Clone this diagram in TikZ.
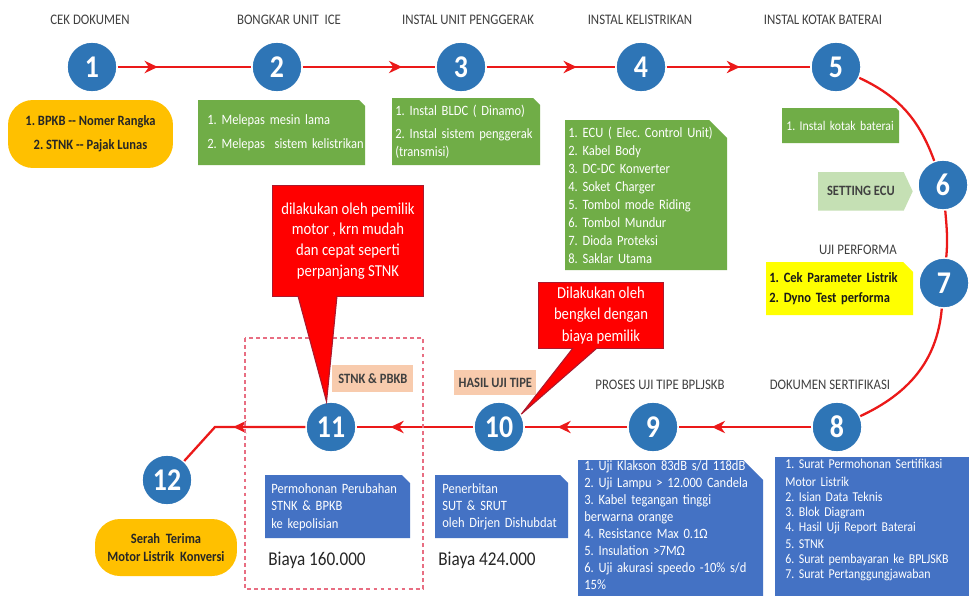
\documentclass[tikz,border=0pt]{standalone}
\usepackage{fontspec}
\setmainfont{Carlito}[FakeStretch=0.88]
\usetikzlibrary{arrows.meta,decorations.markings,backgrounds}
\definecolor{numblue}{RGB}{46,117,182}
\definecolor{boxgreen}{RGB}{112,173,71}
\definecolor{boxblue}{RGB}{68,114,196}
\definecolor{pillyellow}{RGB}{255,192,0}
\definecolor{noteyellow}{RGB}{255,255,0}
\definecolor{tagpeach}{RGB}{248,203,173}
\definecolor{tagmint}{RGB}{197,224,180}
\definecolor{flowred}{RGB}{235,25,25}
\definecolor{callred}{RGB}{255,0,0}
\definecolor{callrim}{RGB}{170,25,45}
\definecolor{headgray}{RGB}{64,64,64}
\definecolor{dashpink}{RGB}{232,110,130}
\frenchspacing
\tikzset{every picture/.style={x=0.02cm, y=-0.02cm}}
\tikzset{num/.style={circle, fill=numblue, draw=white, line width=0.8pt, minimum size=1cm, inner sep=0pt, text=white, font=\fontsize{18}{18}\selectfont\bfseries}}
\tikzset{head/.style={text=headgray, inner sep=0pt, font=\fontsize{8.3}{9}\selectfont}}
\tikzset{panel/.style={anchor=north west, align=left, text width=4cm, inner ysep=0pt, text=white, font=\fontsize{8.1}{10.2}\selectfont}}
\tikzset{pill/.style={fill=pillyellow, rounded corners=0.5cm, align=center, inner sep=0pt, text=black!85, font=\fontsize{8.1}{10.2}\selectfont\bfseries}}
\tikzset{tag/.style={fill=#1, anchor=north west, inner sep=0pt, text=headgray, font=\fontsize{8.1}{9}\selectfont\bfseries}}
\tikzset{talk/.style={fill=callred, draw=callrim, line width=0.6pt, anchor=north west, align=center, inner sep=0pt, text=white, font=\fontsize{9.5}{11.9}\selectfont}}
\tikzset{cost/.style={anchor=west, inner sep=0pt, text=black!85, font=\fontsize{11.1}{12}\selectfont}}
\tikzset{flow/.style={draw=flowred, line width=1.3pt}}
\tikzset{midarrow/.style={postaction={decorate}, decoration={markings, mark=at position #1 with {\arrow{Stealth[length=7.5pt,width=7pt]}}}}}
\newcommand{\panelfill}[5]{\fill[#2] (#1.north west) -- ++(#3-#5,0) -- ++(#5,#5) -- ++(0,#4-#5) -- ++(-#3,0) -- cycle;}
\begin{document}
\frenchspacing
\begin{tikzpicture}
\useasboundingbox (0,0) rectangle (969,595);
\node[num] (c1) at (92,67) {1};
\node[num] (c2) at (277,67) {2};
\node[num] (c3) at (461,67) {3};
\node[num] (c4) at (641,67) {4};
\node[num] (c5) at (836,67) {5};
\node[num] (c6) at (943,185) {6};
\node[num] (c7) at (944,283) {7};
\node[num] (c8) at (837,427) {8};
\node[num] (c9) at (653,427) {9};
\node[num] (c10) at (499,427) {10};
\node[num] (c11) at (331,427) {11};
\node[num] (c12) at (167,480) {12};
\coordinate (bend) at (215,427);
\draw[flow, midarrow=0.30] (c1) -- (c2);
\draw[flow, midarrow=0.75] (c2) -- (c3);
\draw[flow, midarrow=0.70] (c3) -- (c4);
\draw[flow, midarrow=0.51] (c4) -- (c5);
\draw[flow] (c5) to[out=-25, in=110] (c6) to[out=-85, in=85] (c7) to[out=-95, in=25] (c8);
\draw[flow, midarrow=0.75] (c8) -- (c9);
\draw[flow, midarrow=0.68] (c9) -- (c10);
\draw[flow, midarrow=0.71] (c10) -- (c11);
\draw[flow, midarrow=0.53] (c11) -- (bend) -- (c12);

\node[head] (h1) at (90,20) {CEK DOKUMEN};
\node[head] (h2) at (289,20) {BONGKAR UNIT~ ICE};
\node[head] (h3) at (468,20) {INSTAL UNIT PENGGERAK};
\node[head] (h4) at (640,20) {INSTAL KELISTRIKAN};
\node[head] (h5) at (823,20) {INSTAL KOTAK BATERAI};
\node[head] (h7) at (858,250) {UJI PERFORMA};
\node[head] (h8) at (830,385) {DOKUMEN SERTIFIKASI};
\node[head] (h9) at (660,385) {PROSES UJI TIPE BPLJSKB};

\node[pill, minimum width=3.3cm, minimum height=1.36cm, font=\fontsize{8.1}{13.6}\selectfont\bfseries] (b1) at (90.5,134) {1. BPKB -{}- Nomer Rangka\\2. STNK -{}- Pajak Lunas};
\node[panel, inner xsep=0.18cm, minimum height=1.3cm, font=\fontsize{8.1}{13.6}\selectfont] (b2) at (198,100) {1. Melepas mesin lama\\2. Melepas~ sistem kelistrikan};
\node[panel, inner xsep=0.06cm, minimum height=1.34cm] (b3) at (392,98) {1. Instal BLDC ( Dinamo)\\[2.8pt]2. Instal sistem penggerak\\(transmisi)};
\node[panel, inner xsep=0.06cm, minimum height=3cm] (b4) at (565,120) {1. ECU ( Elec. Control Unit)\\2. Kabel Body\\3. DC-DC Konverter\\4. Soket Charger\\5. Tombol mode Riding\\6. Tombol Mundur\\7. Dioda Proteksi\\8. Saklar Utama};
\node[panel, inner xsep=0.08cm, minimum height=0.7cm, font=\fontsize{7.6}{10.2}\selectfont] (b5) at (782,108) {1. Instal kotak baterai};
\node[anchor=north west, minimum width=1.7cm, minimum height=0.76cm, inner sep=0pt, text=headgray, font=\fontsize{8.1}{9}\selectfont\bfseries] (b6) at (818,172) {SETTING ECU};
\node[panel, text=black!90, inner xsep=0.06cm, minimum height=1.06cm, font=\fontsize{8.1}{11.3}\selectfont\bfseries] (b7) at (766,262) {1. Cek Parameter Listrik\\2. Dyno Test performa};
\node[panel, inner xsep=0.2cm, inner ysep=0.04cm, font=\fontsize{7.7}{8.5}\selectfont] (b8) at (775,457) {1. Surat Permohonan Sertifikasi\\[1.7pt]Motor Listrik\\2. Isian Data Teknis\\3. Blok Diagram\\4. Hasil Uji Report Baterai\\[1.2pt]5. STNK\\6. Surat pembayaran ke BPLJSKB\\7. Surat Pertanggungjawaban};
\node[panel, inner xsep=0.12cm, inner ysep=0pt, font=\fontsize{8.1}{9.7}\selectfont] (b9) at (578,460) {1. Uji Klakson 83dB s/d 118dB\\2. Uji Lampu > 12.000 Candela\\3. Kabel tegangan tinggi\\berwarna orange\\4. Resistance Max 0.1Ω\\5. Insulation >7MΩ\\6. Uji akurasi speedo -10\% s/d\\15\%};
\node[panel, inner xsep=0.14cm, minimum height=1.26cm, font=\fontsize{8.1}{9.9}\selectfont] (b10) at (435,475) {Penerbitan\\SUT \& SRUT\\oleh Dirjen Dishubdat};
\node[panel, inner xsep=0.12cm, minimum height=1.26cm, font=\fontsize{8.1}{9.9}\selectfont] (b11) at (265,475) {Permohonan Perubahan\\STNK \& BPKB\\ke kepolisian};
\node[cost] (p10) at (438,560) {Biaya 424.000};
\node[cost] (p11) at (268,560) {Biaya 160.000};
\node[tag=tagpeach, minimum width=1.64cm, minimum height=0.5cm] (t10) at (454,370) {HASIL UJI TIPE};
\node[tag=tagpeach, minimum width=1.62cm, minimum height=0.54cm] (t11) at (332,365) {STNK \& PBKB};
\node[pill, minimum width=2.84cm, minimum height=1.14cm] (b12) at (166,547.5) {Serah~ Terima\\Motor Listrik~ Konversi};
\draw[dashpink, line width=0.8pt, dash pattern=on 2.2pt off 1.8pt] (245,338) rectangle (423,589);

\node[talk, minimum width=3.02cm, minimum height=2.22cm] (k1) at (272,185) {dilakukan oleh pemilik\\motor , krn mudah\\dan cepat seperti\\perpanjang STNK};
\filldraw[fill=callred, draw=callrim, line width=0.6pt] ([xshift=0.52cm, yshift=0.02cm]k1.south west) -- (c11.100) -- ([xshift=1.3cm, yshift=0.02cm]k1.south west);
\node[talk, minimum width=2.5cm, minimum height=1.32cm, font=\fontsize{9.5}{12.3}\selectfont] (k2) at (538,282) {Dilakukan oleh\\bengkel dengan\\biaya pemilik};
\filldraw[fill=callred, draw=callrim, line width=0.6pt] ([xshift=0.7cm, yshift=0.02cm]k2.south west) -- (c10.30) -- ([xshift=1.18cm, yshift=0.02cm]k2.south west);

\begin{scope}[on background layer]
\fill[white] (0,0) rectangle (969,595);
\panelfill{b2}{boxgreen}{167}{65}{6}
\panelfill{b3}{boxgreen}{148}{67}{7}
\panelfill{b4}{boxgreen}{162}{150}{18}
\panelfill{b5}{boxgreen}{117}{35}{3}
\panelfill{b7}{noteyellow}{147}{53}{10}
\panelfill{b8}{boxblue}{200}{145}{0}
\panelfill{b9}{boxblue}{185}{145}{20}
\panelfill{b10}{boxblue}{133}{63}{8}
\panelfill{b11}{boxblue}{145}{63}{8}
\fill[tagmint] (b6.north west) -- (b6.north east) -- ([xshift=0.18cm]b6.east) -- (b6.south east) -- (b6.south west) -- cycle;
\end{scope}
\end{tikzpicture}
\end{document}
